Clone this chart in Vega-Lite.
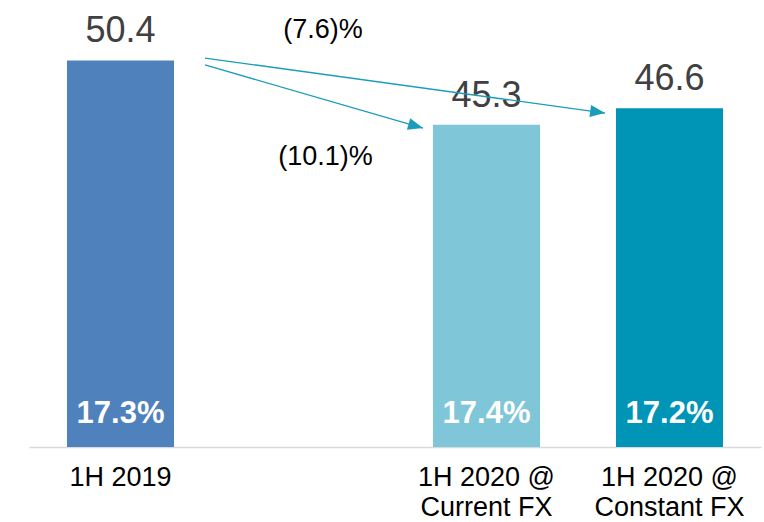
{
  "$schema": "https://vega.github.io/schema/vega-lite/v6.json",
  "width": 732,
  "height": 447,
  "autosize": {"type": "none"},
  "padding": {"left": 29, "top": 0, "right": 3, "bottom": 75},
  "background": "white",
  "config": {"view": {"stroke": null}, "font": "Liberation Sans"},
  "datasets": {
    "bars": [
      {"cat": "1H 2019", "value": 50.4, "margin": "17.3%"},
      {"cat": "1H 2020 @ Current FX", "value": 45.3, "margin": "17.4%"},
      {"cat": "1H 2020 @ Constant FX", "value": 46.6, "margin": "17.2%"}
    ],
    "arrows": [
      {"to": "current", "x1": 0.962, "y1": 50.04, "x2": 2.153, "y2": 45.03},
      {"to": "constant", "x1": 0.962, "y1": 50.59, "x2": 3.148, "y2": 46.22}
    ],
    "notes": [
      {"label": "(7.6)%", "x": 1.607, "y": 52.18},
      {"label": "(10.1)%", "x": 1.62, "y": 42.09}
    ]
  },
  "layer": [
    {
      "data": {"name": "bars"},
      "encoding": {
        "x": {
          "field": "cat",
          "type": "nominal",
          "sort": null,
          "scale": {
            "domain": ["1H 2019", "gap", "1H 2020 @ Current FX", "1H 2020 @ Constant FX"],
            "paddingInner": 0.415,
            "paddingOuter": 0.2075
          },
          "axis": {
            "title": null,
            "ticks": false,
            "domainColor": "#d9d9d9",
            "domainWidth": 1.5,
            "labelAngle": 0,
            "labelFontSize": 27,
            "labelColor": "#000000",
            "labelPadding": 17,
            "labelLineHeight": 30,
            "labelOverlap": false,
            "labelLimit": 0,
            "labelExpr": "datum.value == 'gap' ? '' : (indexof(datum.value, ' FX') > 0 ? [slice(datum.value, 0, 9), slice(datum.value, 10)] : datum.value)"
          }
        }
      },
      "layer": [
        {
          "mark": {"type": "bar"},
          "encoding": {
            "y": {
              "field": "value",
              "type": "quantitative",
              "scale": {"domain": [19.7, 55.2], "zero": false, "nice": false},
              "axis": null
            },
            "y2": {"datum": 19.7},
            "color": {
              "field": "cat",
              "type": "nominal",
              "scale": {
                "domain": ["1H 2019", "1H 2020 @ Current FX", "1H 2020 @ Constant FX"],
                "range": ["#4f81bd", "#80c6d9", "#0094b6"]
              },
              "legend": null
            }
          }
        },
        {
          "mark": {"type": "text", "fontSize": 36, "color": "#404040", "baseline": "alphabetic", "dy": -18},
          "encoding": {
            "y": {"field": "value", "type": "quantitative", "scale": {"domain": [19.7, 55.2], "zero": false, "nice": false}, "axis": null},
            "text": {"field": "value", "type": "quantitative", "format": ".1f"}
          }
        },
        {
          "mark": {"type": "text", "fontSize": 31, "fontWeight": "bold", "color": "#ffffff", "baseline": "alphabetic", "dy": -24},
          "encoding": {
            "y": {"datum": 19.7, "type": "quantitative", "scale": {"domain": [19.7, 55.2], "zero": false, "nice": false}, "axis": null},
            "text": {"field": "margin", "type": "nominal"}
          }
        }
      ]
    },
    {
      "layer": [
        {
          "data": {"name": "arrows"},
          "mark": {"type": "rule", "color": "#1a9cba", "strokeWidth": 1.3},
          "encoding": {
            "x": {"field": "x1", "type": "quantitative", "scale": {"domain": [0, 4], "zero": false, "nice": false}, "axis": null},
            "x2": {"field": "x2"},
            "y": {"field": "y1", "type": "quantitative", "scale": {"domain": [19.7, 55.2], "zero": false, "nice": false}, "axis": null},
            "y2": {"field": "y2"}
          }
        },
        {
          "data": {"name": "arrows"},
          "mark": {"type": "point", "shape": "M0,0L-2,-0.8L-2,0.8Z", "filled": true, "size": 225, "color": "#1a9cba", "opacity": 1, "strokeWidth": 0},
          "encoding": {
            "x": {"field": "x2", "type": "quantitative", "scale": {"domain": [0, 4], "zero": false, "nice": false}, "axis": null},
            "y": {"field": "y2", "type": "quantitative", "scale": {"domain": [19.7, 55.2], "zero": false, "nice": false}, "axis": null},
            "angle": {"condition": {"test": "datum.to == 'current'", "value": 16}, "value": 8}
          }
        },
        {
          "data": {"name": "notes"},
          "mark": {"type": "text", "fontSize": 27, "color": "#000000", "baseline": "alphabetic", "align": "center"},
          "encoding": {
            "x": {"field": "x", "type": "quantitative", "scale": {"domain": [0, 4], "zero": false, "nice": false}, "axis": null},
            "y": {"field": "y", "type": "quantitative", "scale": {"domain": [19.7, 55.2], "zero": false, "nice": false}, "axis": null},
            "text": {"field": "label", "type": "nominal"}
          }
        }
      ]
    }
  ],
  "resolve": {"scale": {"x": "independent"}}
}
